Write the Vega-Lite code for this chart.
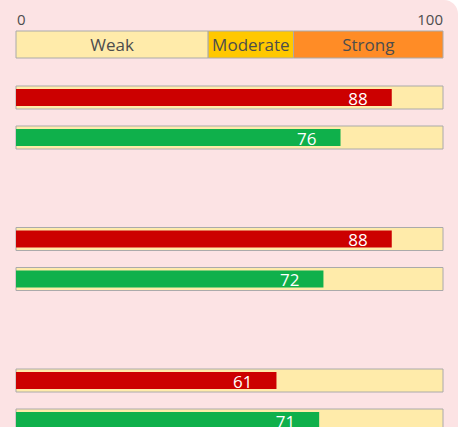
{
  "$schema": "https://vega.github.io/schema/vega-lite/v6.json",
  "width": 478,
  "height": 460,
  "autosize": "none",
  "padding": {"left": -20, "top": 0, "right": 0, "bottom": 0},
  "background": "white",
  "view": {"fill": "#FCE3E4", "stroke": null, "cornerRadius": 14},
  "config": {"text": {"font": "Open Sans"}},
  "datasets": {
    "bands": [
      {"label": "Weak", "start": 0, "end": 45, "row": "scale"},
      {"label": "Moderate", "start": 45, "end": 65, "row": "scale"},
      {"label": "Strong", "start": 65, "end": 100, "row": "scale"}
    ],
    "ticks": [
      {"tick": 0, "row": "scale"},
      {"tick": 100, "row": "scale"}
    ],
    "bars": [
      {"group": "1", "series": "red", "value": 88},
      {"group": "1", "series": "green", "value": 76},
      {"group": "2", "series": "red", "value": 88},
      {"group": "2", "series": "green", "value": 72},
      {"group": "3", "series": "red", "value": 61},
      {"group": "3", "series": "green", "value": 71}
    ]
  },
  "layer": [
    {
      "layer": [
        {
          "data": {"name": "bands"},
          "mark": {"type": "bar", "stroke": "#aaaaaa", "strokeWidth": 1},
          "encoding": {
            "x": {"field": "start", "type": "quantitative", "scale": {"domain": [0, 100], "range": [36, 463], "nice": false}, "axis": null},
            "x2": {"field": "end"},
            "y": {"field": "row", "type": "nominal", "scale": {"domain": ["scale"], "range": [31, 58], "paddingInner": 0, "paddingOuter": 0}, "axis": null},
            "color": {"field": "label", "type": "nominal", "scale": {"domain": ["Weak", "Moderate", "Strong"], "range": ["#FFEBAA", "#FFC800", "#FF8C26"]}, "legend": null}
          }
        },
        {
          "data": {"name": "bands"},
          "transform": [{"calculate": "(datum.start + datum.end) / 2", "as": "mid"}],
          "mark": {"type": "text", "fontSize": 17, "fill": "#4d4d4d", "baseline": "alphabetic", "dy": 6.2},
          "encoding": {
            "x": {"field": "mid", "type": "quantitative"},
            "y": {"field": "row", "type": "nominal"},
            "text": {"field": "label"}
          }
        },
        {
          "data": {"name": "ticks"},
          "transform": [{"filter": "datum.tick == 0"}],
          "mark": {"type": "text", "fontSize": 15, "fill": "#4d4d4d", "align": "left", "baseline": "alphabetic", "dy": -19.5, "dx": 1},
          "encoding": {
            "x": {"field": "tick", "type": "quantitative"},
            "y": {"field": "row", "type": "nominal"},
            "text": {"field": "tick"}
          }
        },
        {
          "data": {"name": "ticks"},
          "transform": [{"filter": "datum.tick == 100"}],
          "mark": {"type": "text", "fontSize": 15, "fill": "#4d4d4d", "align": "right", "baseline": "alphabetic", "dy": -19.5, "dx": 0},
          "encoding": {
            "x": {"field": "tick", "type": "quantitative"},
            "y": {"field": "row", "type": "nominal"},
            "text": {"field": "tick"}
          }
        }
      ]
    },
    {
      "data": {"name": "bars"},
      "layer": [
        {
          "mark": {"type": "bar", "height": 23, "fill": "#FFEBAA", "stroke": "#aaaaaa", "strokeWidth": 1},
          "encoding": {
            "x": {"datum": 0, "type": "quantitative"},
            "x2": {"datum": 100},
            "y": {"field": "group", "type": "nominal", "scale": {"domain": ["1", "2", "3"], "range": [46.75, 471.25], "paddingInner": 0, "paddingOuter": 0}, "axis": null},
            "yOffset": {"field": "series", "type": "nominal", "scale": {"domain": ["red", "green"], "paddingInner": 0.425, "paddingOuter": 0.98125}}
          }
        },
        {
          "mark": {"type": "bar", "height": 17},
          "encoding": {
            "x": {"field": "value", "type": "quantitative", "stack": null},
            "x2": {"datum": 0},
            "y": {"field": "group", "type": "nominal"},
            "yOffset": {"field": "series", "type": "nominal"},
            "color": {"field": "series", "type": "nominal", "scale": {"domain": ["red", "green"], "range": ["#CC0000", "#0FB04B"]}, "legend": null}
          }
        },
        {
          "mark": {"type": "text", "fontSize": 17, "fill": "white", "align": "right", "baseline": "alphabetic", "dx": -24, "dy": 7},
          "encoding": {
            "x": {"field": "value", "type": "quantitative"},
            "y": {"field": "group", "type": "nominal"},
            "yOffset": {"field": "series", "type": "nominal"},
            "text": {"field": "value"}
          }
        }
      ]
    }
  ],
  "resolve": {"scale": {"y": "independent", "color": "independent"}}
}
